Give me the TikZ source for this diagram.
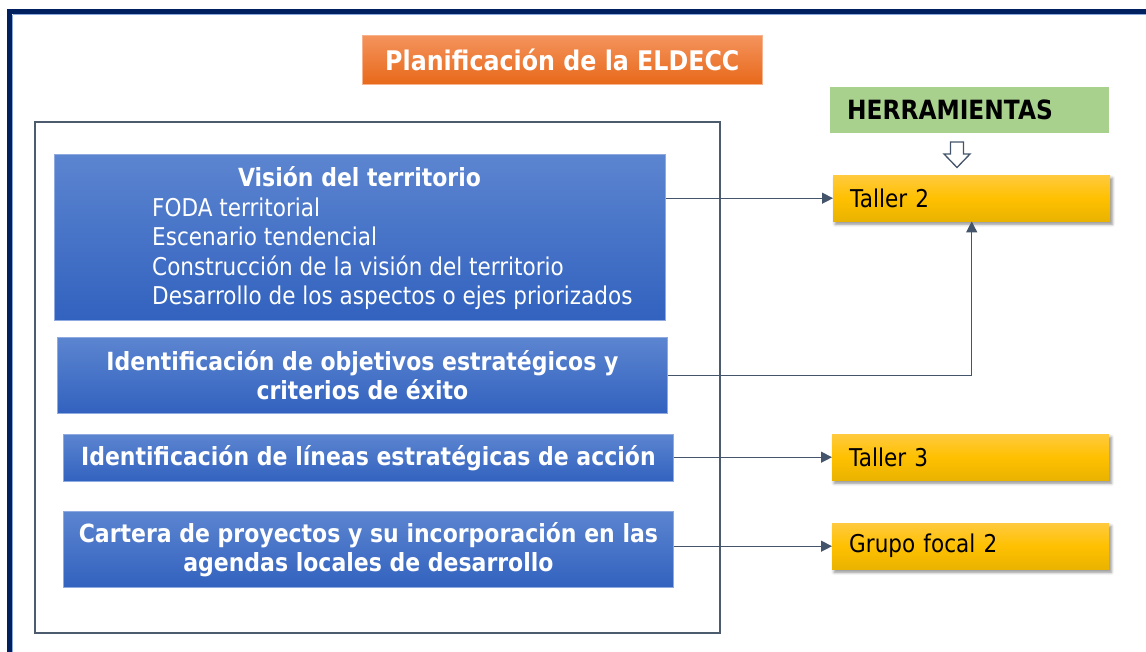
\documentclass[tikz,border=0pt]{standalone}
\usepackage{fontspec}
\setmainfont{DejaVu Sans}[FakeStretch=0.88]
\usetikzlibrary{arrows.meta,shadows,shadows.blur,calc}
\definecolor{navy}{HTML}{002060}
\definecolor{navylight}{HTML}{8EA9DB}
\definecolor{framegrey}{HTML}{4D5B6E}
\definecolor{bluetop}{HTML}{5C85D0}
\definecolor{bluebot}{HTML}{3262BF}
\definecolor{blueedge}{HTML}{8FAAE0}
\definecolor{orangetop}{HTML}{F4935C}
\definecolor{orangebot}{HTML}{E8691A}
\definecolor{goldtop}{HTML}{FFCA3E}
\definecolor{goldmid}{HTML}{FFC000}
\definecolor{goldbot}{HTML}{E9B300}
\definecolor{herrgreen}{HTML}{A9D18E}
\definecolor{arrowgrey}{HTML}{44546A}
\tikzset{
  bluebox/.style={rectangle, anchor=north west, draw=blueedge, line width=0.8pt,
    top color=bluetop, bottom color=bluebot, text=white, align=center,
    font=\bfseries\fontsize{25}{29}\selectfont, inner sep=0pt},
  bodyline/.style={text=white, font=\fontsize{24.5}{29.5}\selectfont, anchor=base west, inner sep=0pt},
  goldbox/.style={rectangle, anchor=north west, top color=goldtop, bottom color=goldbot,
    middle color=goldmid, blur shadow={shadow xshift=2pt, shadow yshift=-3pt, shadow opacity=45, shadow blur radius=3pt},
    minimum width=277pt, minimum height=46pt, text width=243pt, align=left,
    inner xsep=17pt, inner ysep=0pt, font=\fontsize{24.5}{28}\selectfont, text=black},
  conn/.style={draw=arrowgrey, line width=1.3pt, -{Triangle[length=11pt,width=11pt]}},
}
\begin{document}
\begin{tikzpicture}[x=1pt,y=-1pt]
\useasboundingbox (0,0) rectangle (1146,651);
\clip (0,0) rectangle (1146,651);
% outer frame
\draw[navy, line width=5pt] (9.5,11.5) rectangle (1170,680);
\draw[navylight, line width=1pt] (12.5,14.5) -- (1170,14.5);
\draw[navylight, line width=0.8pt] (12.5,14.5) -- (12.5,680);
% title
\node[rectangle, anchor=north west, top color=orangetop, bottom color=orangebot,
  draw=orangetop!70!white, line width=0.6pt, minimum width=400pt, minimum height=49pt,
  text=white, font=\bfseries\fontsize{27}{32}\selectfont, inner sep=0pt] (title) at (362,35) {Planificación de la ELDECC};
% inner frame
\draw[framegrey, line width=2pt] (35,122) rectangle (720,633);
% blue boxes
\node[bluebox, minimum width=611pt, minimum height=166pt] (b1) at (54,154) {};
\node[text=white, font=\bfseries\fontsize{25}{29}\selectfont, anchor=base, inner sep=0pt] (b1t) at (359.5,186) {Visión del territorio};
\node[bodyline] (l1) at (152,216) {FODA territorial};
\node[bodyline] (l2) at (152,245) {Escenario tendencial};
\node[bodyline] (l3) at (152,275) {Construcción de la visión del territorio};
\node[bodyline] (l4) at (152,304) {Desarrollo de los aspectos o ejes priorizados};
\node[bluebox, minimum width=610pt, minimum height=76pt] (b2) at (57,337) {Identificación de objetivos estratégicos y\\criterios de éxito};
\node[bluebox, minimum width=610pt, minimum height=47pt] (b3) at (63,434) {Identificación de líneas estratégicas de acción};
\node[bluebox, minimum width=610pt, minimum height=76pt] (b4) at (63,511) {Cartera de proyectos y su incorporación en las\\agendas locales de desarrollo};
% herramientas
\node[rectangle, anchor=north west, fill=herrgreen, minimum width=279pt, minimum height=46pt,
  text width=245pt, align=left, inner xsep=17pt, inner ysep=0pt,
  font=\bfseries\fontsize{26.5}{30}\selectfont, text=black] (herr) at (830,87) {HERRAMIENTAS};
% gold boxes
\node[goldbox] (t2) at (833,175) {Taller 2};
\node[goldbox] (t3) at (832,434) {Taller 3};
\node[goldbox] (g2) at (832,523) {Grupo focal 2};
% hollow arrow
\draw[arrowgrey, fill=white, line width=1.3pt, line join=miter]
  (950.5,142) -- (963.5,142) -- (963.5,154) -- (970,154) -- (957,167.5) -- (944,154) -- (950.5,154) -- cycle;
% connectors
\draw[conn] (b1.east |- t2.west) -- (t2.west);
\draw[conn] (b2.east) -| (t2.south);
\draw[conn] (b3.east |- t3.west) -- (t3.west);
\draw[conn] (b4.east |- g2.west) -- (g2.west);
\end{tikzpicture}
\end{document}
